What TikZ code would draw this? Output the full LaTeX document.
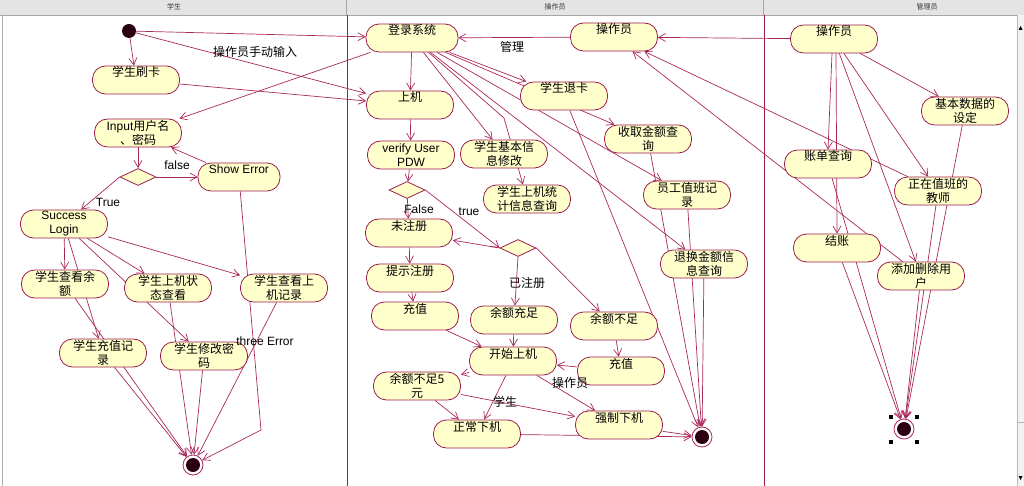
\documentclass[tikz,border=0pt]{standalone}
\usepackage{fontspec}
\setmainfont{Liberation Sans}
\newfontfamily\cjk{Noto Sans CJK SC}
\usetikzlibrary{arrows.meta,shapes.geometric,backgrounds}
\definecolor{umlline}{HTML}{A8285A}
\definecolor{umlborder}{HTML}{9C1C4C}
\definecolor{umlfill}{HTML}{FFFFCC}
\definecolor{umldot}{HTML}{2B0012}
\definecolor{headgray}{HTML}{E4E4E4}
\tikzset{
  act/.style={draw=umlborder,fill=umlfill,line width=0.8pt,rounded corners=13pt,
              minimum width=87pt,minimum height=28pt,inner sep=0.5pt,
              align=center,font=\cjk\fontsize{12}{14}\selectfont},
  latin/.style={font=\fontsize{12}{14}\selectfont},
  upper/.style={text height=10pt,text depth=16pt},
  decision/.style={diamond,draw=umlborder,fill=umlfill,line width=0.8pt,
                   minimum width=36pt,minimum height=17pt,inner sep=0pt},
  startdot/.style={circle,fill=umldot,minimum size=14pt,inner sep=0pt},
  enddot/.style={circle,draw=umlline,fill=white,line width=0.8pt,
                 minimum size=20pt,inner sep=0pt,
                 path picture={\fill[umldot] (path picture bounding box.center) circle (7pt);}},
  flow/.style={draw=umlline,line width=0.7pt,-{Straight Barb[length=7pt,width=8pt]}},
  lbl/.style={font=\cjk\fontsize{12}{14}\selectfont,inner sep=0pt},
  lbllat/.style={font=\fontsize{12}{14}\selectfont,inner sep=0pt},
  lanehead/.style={font=\cjk\fontsize{7}{8}\selectfont,text=black!80,inner sep=0pt},
  handle/.style={fill=black,minimum size=4pt,inner sep=0pt}
}

\begin{document}
\begin{tikzpicture}[x=1pt,y=-1pt]
    \path[use as bounding box] (0,0) rectangle (1024,486);

    % lane 1
    \node[startdot] (start) at (129,31) {};
    \node[act,upper] (card) at (136,80) {学生刷卡};
    \node[act] (input) at (138,133) {{\rmfamily Input}用户名\\、密码};
    \node[decision] (dec1) at (138,177) {};
    \node[act,latin,upper,minimum width=82pt] (showerr) at (239,177) {Show Error};
    \node[act,latin] (success) at (64,224) {Success\\Login};
    \node[act] (balance) at (65,284) {学生查看余\\额};
    \node[act] (state) at (168,288) {学生上机状\\态查看};
    \node[act] (record) at (284,288) {学生查看上\\机记录};
    \node[act] (chargerec) at (103,353) {学生充值记\\录};
    \node[act] (passwd) at (204,356) {学生修改密\\码};
    \node[enddot] (end1) at (193,465) {};
    \coordinate (errturn) at (261,430);

    % lane 2
    \node[act,upper,minimum width=92pt] (login) at (412,38) {登录系统};
    \node[act,upper] (online) at (410,105) {上机};
    \node[act,latin] (verify) at (411,155) {verify User\\PDW};
    \node[act] (info) at (504,154) {学生基本信\\息修改};
    \node[act] (stat) at (527,199) {学生上机统\\计信息查询};
    \coordinate (statbend) at (504,118);
    \node[decision] (dec2) at (407,190) {};
    \node[act,upper] (unreg) at (409,233) {未注册};
    \node[decision] (dec3) at (518,248) {};
    \node[act,upper] (hint) at (410,278) {提示注册};
    \node[act,upper] (charge1) at (415,316) {充值};
    \node[act,upper] (enough) at (514,320) {余额充足};
    \node[act,upper] (lack) at (614,326) {余额不足};
    \node[act,upper] (startuse) at (513,361) {开始上机};
    \node[act,upper] (charge2) at (621,371) {充值};
    \node[act] (lowbal) at (417,386) {余额不足5\\元};
    \node[act,upper] (normal) at (477,434) {正常下机};
    \node[act,upper] (force) at (619,425) {强制下机};
    \node[enddot] (end2) at (702,437) {};
    \node[act,upper] (refund) at (564,96) {学生退卡};
    \node[act] (fee) at (648,139) {收取金额查\\询};
    \node[act,upper] (op) at (614,37) {操作员};
    \node[act] (duty) at (687,195) {员工值班记\\录};
    \node[act] (change) at (704,264) {退换金额信\\息查询};

    % lane 3
    \node[act,upper] (admin) at (834,39) {操作员};
    \node[act] (basic) at (965,111) {基本数据的\\设定};
    \node[act,upper] (bill) at (828,164) {账单查询};
    \node[act] (teacher) at (938,191) {正在值班的\\教师};
    \node[act,upper] (settle) at (837,248) {结账};
    \node[act] (users) at (921,276) {添加删除用\\户};
    \node[enddot] (end3) at (904,429) {};
    \foreach \hx/\hy [count=\i] in {891/417,917/417,891/442,917/442}
      \node[handle] (handle\i) at (\hx,\hy) {};

    % labels
    \node[lbl] (lblmanual) at (255,52) {操作员手动输入};
    \node[lbllat] (lblfalse1) at (177,165) {false};
    \node[lbllat] (lbltrue1) at (108,202) {True};
    \node[lbllat] (lblthree) at (265,341) {three Error};
    \node[lbl] (lblmanage) at (512,47) {管理};
    \node[lbllat] (lblfalse2) at (419,209) {False};
    \node[lbllat] (lbltrue2) at (469,212) {true};
    \node[lbl] (lblreg) at (527,283) {已注册};
    \node[lbl] (lblop) at (570,383) {操作员};
    \node[lbl] (lblstu) at (505,402) {学生};

    % swimlane headers
    \node[lanehead] (headstu) at (174,7) {学生};
    \node[lanehead] (headop) at (555,7) {操作员};
    \node[lanehead] (headadmin) at (927,7) {管理员};

    \begin{scope}[on background layer]
      \fill[headgray] (0,0) rectangle (1024,15);
      \draw[gray!70] (0,15) -- (1024,15);
      \draw[gray!70] (346,0) -- (346,15) (763,0) -- (763,15);
      \draw[gray!60] (2,15) -- (2,486);
      \draw[umlborder,line width=0.8pt] (347,15) -- (347,486) (764,15) -- (764,486);
      \fill[gray!10] (1017,15) rectangle (1024,486);
      \draw[gray!55] (1017,15) -- (1017,486) (1017,422) -- (1024,422);
      \fill[black] (1018.5,30) -- (1022.5,30) -- (1020.5,26) -- cycle;
      \fill[black] (1018.5,476) -- (1022.5,476) -- (1020.5,480) -- cycle;

      % lane 1 flows
      \draw[flow] (start) -- (card);
      \draw[flow] (start) -- (login);
      \draw[flow] (start) -- (online);
      \draw[flow] (card) -- (online);
      \draw[flow] (login) -- (input);
      \draw[flow] (input) -- (dec1);
      \draw[flow] (dec1) -- (showerr);
      \draw[flow] (showerr) -- (input);
      \draw[flow] (dec1.west) -- (success);
      \draw[flow] (success) -- (balance);
      \draw[flow] (success) -- (chargerec);
      \draw[flow] (success) -- (state);
      \draw[flow] (success) -- (passwd);
      \draw[flow] (success) -- (record);
      \draw[flow] (balance) -- (end1);
      \draw[flow] (chargerec) -- (end1);
      \draw[flow] (state) -- (end1);
      \draw[flow] (passwd) -- (end1);
      \draw[flow] (record) -- (end1);
      \draw[flow] (showerr) -- (errturn) -- (end1);

      % lane 2 flows
      \draw[flow] (op) -- (login);
      \draw[flow] (login) -- (online);
      \draw[flow] (online) -- (verify);
      \draw[flow] (verify) -- (dec2);
      \draw[flow] (dec2) -- (unreg);
      \draw[flow] (dec2.east) -- (dec3.west);
      \draw[flow] (dec3.west) -- (unreg);
      \draw[flow] (dec3.south) -- (enough);
      \draw[flow] (dec3.east) -- (lack);
      \draw[flow] (unreg) -- (hint);
      \draw[flow] (hint) -- (charge1);
      \draw[flow] (charge1) -- (startuse);
      \draw[flow] (enough) -- (startuse);
      \draw[flow] (lack) -- (charge2);
      \draw[flow] (charge2) -- (startuse);
      \draw[flow] (startuse) -- (lowbal);
      \draw[flow] (startuse) -- (normal);
      \draw[flow] (startuse) -- (force);
      \draw[flow] (lowbal) -- (normal);
      \draw[flow] (lowbal) -- (force);
      \draw[flow] (normal) -- (end2);
      \draw[flow] (force) -- (end2);
      \draw[flow] (login) -- (info);
      \draw[flow] (login) -- (statbend) -- (stat);
      \draw[flow] (login) -- (refund);
      \draw[flow] (login) -- (fee);
      \draw[flow] (login) -- (duty);
      \draw[flow] (login) -- (change);
      \draw[flow] (refund) -- (end2);
      \draw[flow] (fee) -- (end2);
      \draw[flow] (duty) -- (end2);
      \draw[flow] (change) -- (end2);

      % lane 3 flows
      \draw[flow] (admin) -- (op);
      \draw[flow] ([xshift=-2pt]admin.south) -- (bill.north);
      \draw[flow] ([xshift=2pt]admin.south) -- (settle.north);
      \draw[flow] (admin) -- (basic);
      \draw[flow] (admin) -- (teacher);
      \draw[flow] (admin) -- (users);
      \draw[flow] (bill) -- (end3);
      \draw[flow] (settle) -- (end3);
      \draw[flow] (basic) -- (end3);
      \draw[flow] (teacher) -- (end3);
      \draw[flow] (users) -- (end3);
      \draw[flow] (teacher) -- (op);
      \draw[flow] (users) -- (op);
    \end{scope}
\end{tikzpicture}
\end{document}
